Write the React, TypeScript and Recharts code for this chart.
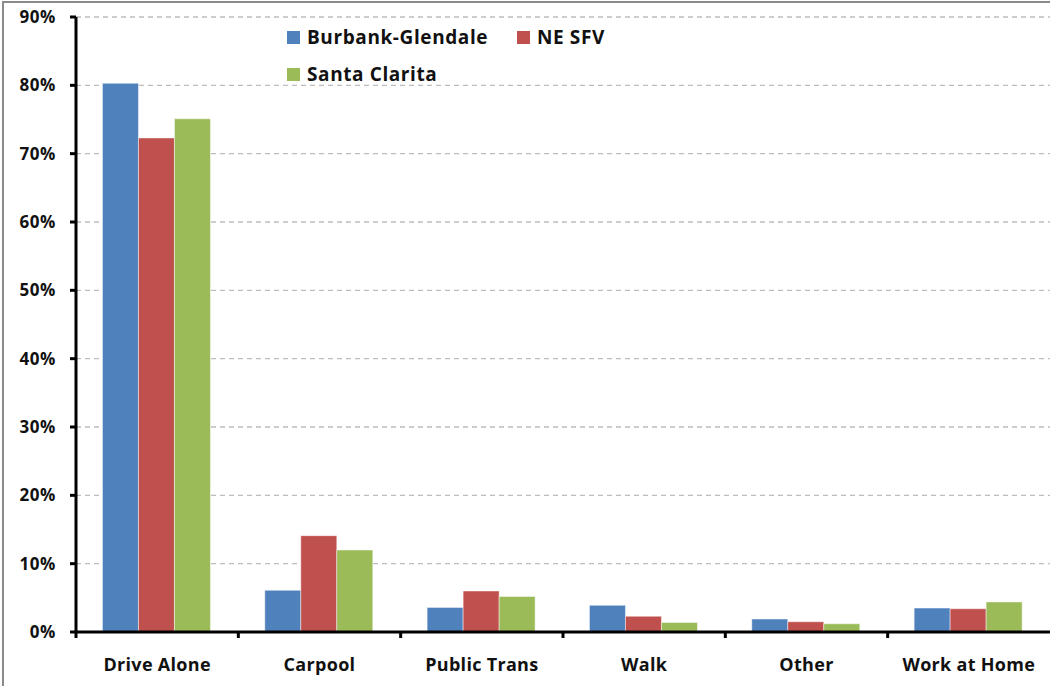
import React from "react";
import { BarChart, Bar, XAxis, YAxis, CartesianGrid } from "recharts";

const categories = ["Drive Alone", "Carpool", "Public Trans", "Walk", "Other", "Work at Home"];
const burbankGlendale = [80.3, 6.1, 3.6, 3.9, 1.9, 3.5];
const neSfv = [72.3, 14.1, 6.0, 2.3, 1.5, 3.4];
const santaClarita = [75.1, 12.0, 5.2, 1.4, 1.2, 4.4];
const yTicks = [0, 10, 20, 30, 40, 50, 60, 70, 80, 90];

const seriesInfo = [
  { key: "bg", name: "Burbank-Glendale", color: "#4F81BD" },
  { key: "ne", name: "NE SFV", color: "#C0504D" },
  { key: "sc", name: "Santa Clarita", color: "#9BBB59" },
];

const data = categories.map((c, i) => ({
  category: c,
  bg: burbankGlendale[i],
  ne: neSfv[i],
  sc: santaClarita[i],
}));

const FONT = "'Open Sans', 'DejaVu Sans', sans-serif";
const W = 1050;
const H = 686;
const LEFT = 76;
const TOP = 17;
const XAXIS_H = 30;
const BOTTOM = 54 - XAXIS_H;
const RIGHT = 0;
const band = (W - LEFT - RIGHT) / categories.length;

const XTick = (props: any) => {
  const { x, y, payload } = props;
  const left = x - band / 2;
  return (
    <g>
      <line x1={left} x2={left} y1={y} y2={y + 6} stroke="#000" strokeWidth={3} />
      <text
        x={x}
        y={y + 39}
        textAnchor="middle"
        fontFamily={FONT}
        fontWeight={700}
        fontSize={18}
        letterSpacing={0.3}
        fill="#111"
      >
        {payload.value}
      </text>
    </g>
  );
};

const LegendBox = () => {
  const item = (s: any, left: number, top: number) => (
    <div
      key={s.key}
      style={{
        position: "absolute",
        left,
        top,
        display: "flex",
        alignItems: "center",
        whiteSpace: "nowrap",
        height: 24,
      }}
    >
      <span
        style={{
          display: "inline-block",
          width: 13,
          height: 13,
          background: s.color,
          marginRight: 7,
        }}
      />
      <span
        style={{ fontFamily: FONT, fontWeight: 700, fontSize: 19, letterSpacing: 0.6, color: "#111", lineHeight: "24px" }}
      >
        {s.name}
      </span>
    </div>
  );
  return (
    <div style={{ position: "absolute", left: 287, top: 25, width: 400, height: 80 }}>
      {item(seriesInfo[0], 0, 0)}
      {item(seriesInfo[1], 230, 0)}
      {item(seriesInfo[2], 0, 37)}
    </div>
  );
};

export default function App() {
  return (
    <div
      style={{
        position: "absolute",
        left: 0,
        top: 0,
        width: W,
        height: H,
        background: "#fff",
        overflow: "hidden",
      }}
    >
      <BarChart
        width={W}
        height={H}
        data={data}
        margin={{ top: TOP, right: RIGHT, bottom: BOTTOM, left: 0 }}
        barCategoryGap="16.3%"
        barGap={0}
      >
        <CartesianGrid vertical={false} stroke="#BDBDBD" strokeDasharray="5 4" strokeWidth={1.3} />
        <XAxis
          dataKey="category"
          height={XAXIS_H}
          tick={<XTick />}
          tickLine={false}
          tickSize={0}
          tickMargin={0}
          axisLine={{ stroke: "#000", strokeWidth: 3 }}
          interval={0}
        />
        <YAxis
          width={LEFT}
          domain={[0, 90]}
          ticks={yTicks}
          interval={0}
          tickFormatter={(v: number) => `${v}%`}
          tickSize={6}
          tickMargin={14}
          axisLine={{ stroke: "#000", strokeWidth: 3 }}
          tickLine={{ stroke: "#000", strokeWidth: 3 }}
          tick={{ fontFamily: FONT, fontWeight: 700, fontSize: 17, fill: "#111", letterSpacing: 0.6 }}
        />
        {seriesInfo.map((s) => (
          <Bar
            key={s.key}
            dataKey={s.key}
            name={s.name}
            fill={s.color}
            stroke="rgba(255,255,255,0.45)"
            strokeWidth={1}
            isAnimationActive={false}
          />
        ))}
      </BarChart>
      <LegendBox />
      <div
        style={{
          position: "absolute",
          left: 2,
          top: 1,
          width: W,
          height: H,
          borderTop: "2px solid #8a8a8a",
          borderLeft: "2px solid #8a8a8a",
          pointerEvents: "none",
        }}
      />
    </div>
  );
}
